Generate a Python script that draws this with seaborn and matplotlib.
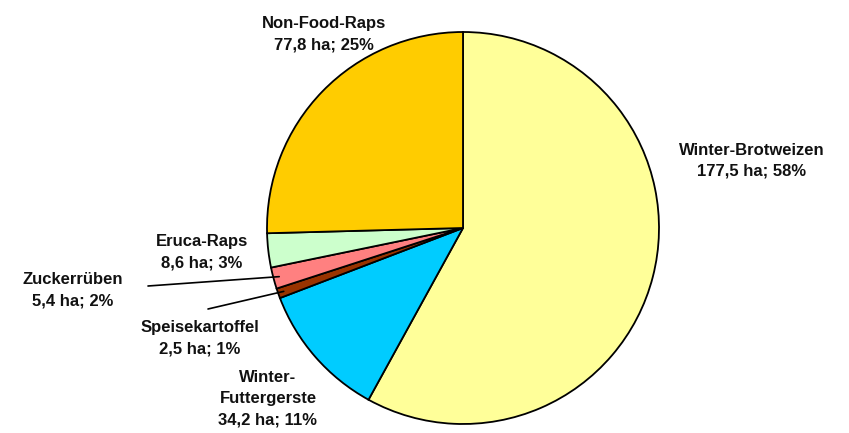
import matplotlib
matplotlib.use("Agg")
import matplotlib.pyplot as plt
import numpy as np
import seaborn as sns

# crop areas in ha, clockwise from 12 o'clock
CROPS = ["Winter-Brotweizen", "Winter-\nFuttergerste", "Speisekartoffel",
         "Zuckerrüben", "Eruca-Raps", "Non-Food-Raps"]
AREA_HA = [177.5, 34.2, 2.5, 5.4, 8.6, 77.8]
COLORS = ["#FFFF99", "#00CCFF", "#993300", "#FF8080", "#CCFFCC", "#FFCC00"]

# label layout (pixel space, y from bottom), and which labels get a leader line
LABEL_POS = [(752, 272), (268, 34), (200, 95), (73, 143), (202, 181), (324, 399)]
LEADER = [False, False, True, True, False, False]
LEADER_START = {2: (208, 124), 3: (148, 147)}

W, H = 849, 433
CENTER = (463, 205)
RADIUS = 196

sns.set_theme(style="white")
plt.rcParams["font.family"] = ["Liberation Sans", "DejaVu Sans"]

fig = plt.figure(figsize=(W / 100, H / 100), dpi=100)
ax = fig.add_axes([0, 0, 1, 1])

wedges, _ = ax.pie(
    AREA_HA,
    colors=COLORS,
    startangle=90,
    counterclock=False,
    center=CENTER,
    radius=RADIUS,
    wedgeprops=dict(edgecolor="black", linewidth=1.3),
    frame=True,
)
ax.set_xlim(0, W)
ax.set_ylim(0, H)
ax.axis("off")

total = sum(AREA_HA)
for i, (name, val, w) in enumerate(zip(CROPS, AREA_HA, wedges)):
    pct = round(val / total * 100)
    text = f"{name}\n{val:.1f}".replace(".", ",") + f" ha; {pct}%"
    x, y = LABEL_POS[i]
    ax.text(x, y, text, ha="center", va="center", fontsize=12,
            fontweight="bold", color="#111111", linespacing=1.5)
    if LEADER[i]:
        mid = np.deg2rad((w.theta1 + w.theta2) / 2)
        ex = CENTER[0] + RADIUS * 0.97 * np.cos(mid)
        ey = CENTER[1] + RADIUS * 0.97 * np.sin(mid)
        sx, sy = LEADER_START[i]
        ax.plot([sx, ex], [sy, ey], color="black", linewidth=1.2)

fig.savefig("out.png", dpi=100)
